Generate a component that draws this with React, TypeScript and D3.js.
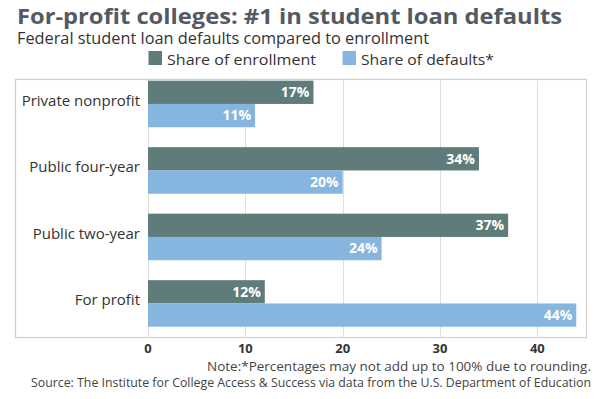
import React from "react";
import * as d3 from "d3";

const categories = ["Private nonprofit", "Public four-year", "Public two-year", "For profit"];
const enrollment = [17, 34, 37, 12];
const defaults = [11, 20, 24, 44];
const seriesNames = ["Share of enrollment", "Share of defaults*"];
const xTicks = [0, 10, 20, 30, 40];

const W = 600;
const H = 399;
const DARK = "#5f7b7a";
const LIGHT = "#86b5e0";
const FONT = "'Open Sans', sans-serif";

export default function App() {
  const frame = { left: 15, right: 586, top: 79, bottom: 337 };
  const x = d3.scaleLinear().domain([0, 45]).range([148, 586]);
  const y = d3.scaleBand<string>().domain(categories).range([70.7, 336.7]).paddingInner(0.3).paddingOuter(0.15);
  const sub = d3.scaleBand<string>().domain(["e", "d"]).range([0, y.bandwidth()]);

  return (
    <svg width={W} height={H} style={{ position: "absolute", left: 0, top: 0, background: "#fff", fontFamily: FONT }}>
      <rect x={0} y={0} width={W} height={H} fill="#fff" />
      <text x={17} y={24} fontSize={22} fontWeight={700} fill="#545963" textLength={545} lengthAdjust="spacingAndGlyphs">
        For-profit colleges: #1 in student loan defaults
      </text>
      <text x={17} y={44} fontSize={15.5} fill="#333" textLength={412} lengthAdjust="spacingAndGlyphs">
        Federal student loan defaults compared to enrollment
      </text>
      {/* legend */}
      <rect x={148.5} y={51} width={13.5} height={14} fill={DARK} />
      <text x={167} y={65} fontSize={15} fill="#333" textLength={149} lengthAdjust="spacingAndGlyphs">{seriesNames[0]}</text>
      <rect x={342.5} y={51} width={13.5} height={14} fill={LIGHT} />
      <text x={361} y={65} fontSize={15} fill="#333" textLength={133} lengthAdjust="spacingAndGlyphs">{seriesNames[1]}</text>

      {/* frame */}
      <rect x={frame.left + 0.5} y={frame.top + 0.5} width={frame.right - frame.left} height={frame.bottom - frame.top} fill="none" stroke="#cfcfcf" strokeWidth={1.2} />
      {xTicks.map((t) => (
        <line key={t} x1={Math.round(x(t)) + 0.5} x2={Math.round(x(t)) + 0.5} y1={frame.top} y2={frame.bottom} stroke="#dedede" strokeWidth={1} />
      ))}

      {categories.map((c, i) => {
        const y0 = y(c) as number;
        const bh = sub.bandwidth();
        return (
          <g key={c}>
            <text x={140} y={y0 + y.bandwidth() / 2 - 2} fontSize={15} fill="#333" textAnchor="end" dominantBaseline="middle">
              {c}
            </text>
            <rect x={x(0)} y={y0 + (sub("e") as number)} width={x(enrollment[i]) - x(0)} height={bh} fill={DARK} />
            <rect x={x(0)} y={y0 + (sub("d") as number)} width={x(defaults[i]) - x(0)} height={bh} fill={LIGHT} />
            <text x={x(enrollment[i]) - 4} y={y0 + (sub("e") as number) + bh / 2 + 1} fontSize={14} fontWeight={700} fill="#fff" textAnchor="end" dominantBaseline="middle">
              {enrollment[i]}%
            </text>
            <text x={x(defaults[i]) - 4} y={y0 + (sub("d") as number) + bh / 2 + 1} fontSize={14} fontWeight={700} fill="#fff" textAnchor="end" dominantBaseline="middle">
              {defaults[i]}%
            </text>
          </g>
        );
      })}

      {xTicks.map((t) => (
        <text key={t} x={x(t)} y={353} fontSize={13} fontWeight={700} fill="#333" textAnchor="middle">
          {t}
        </text>
      ))}

      <text x={591} y={371} fontSize={13} fill="#444" textAnchor="end" textLength={384} lengthAdjust="spacingAndGlyphs">
        Note:*Percentages may not add up to 100% due to rounding.
      </text>
      <text x={591} y={387} fontSize={12.3} fill="#444" textAnchor="end" textLength={560} lengthAdjust="spacingAndGlyphs">
        Source: The Institute for College Access &amp; Success via data from the U.S. Department of Education
      </text>
    </svg>
  );
}
